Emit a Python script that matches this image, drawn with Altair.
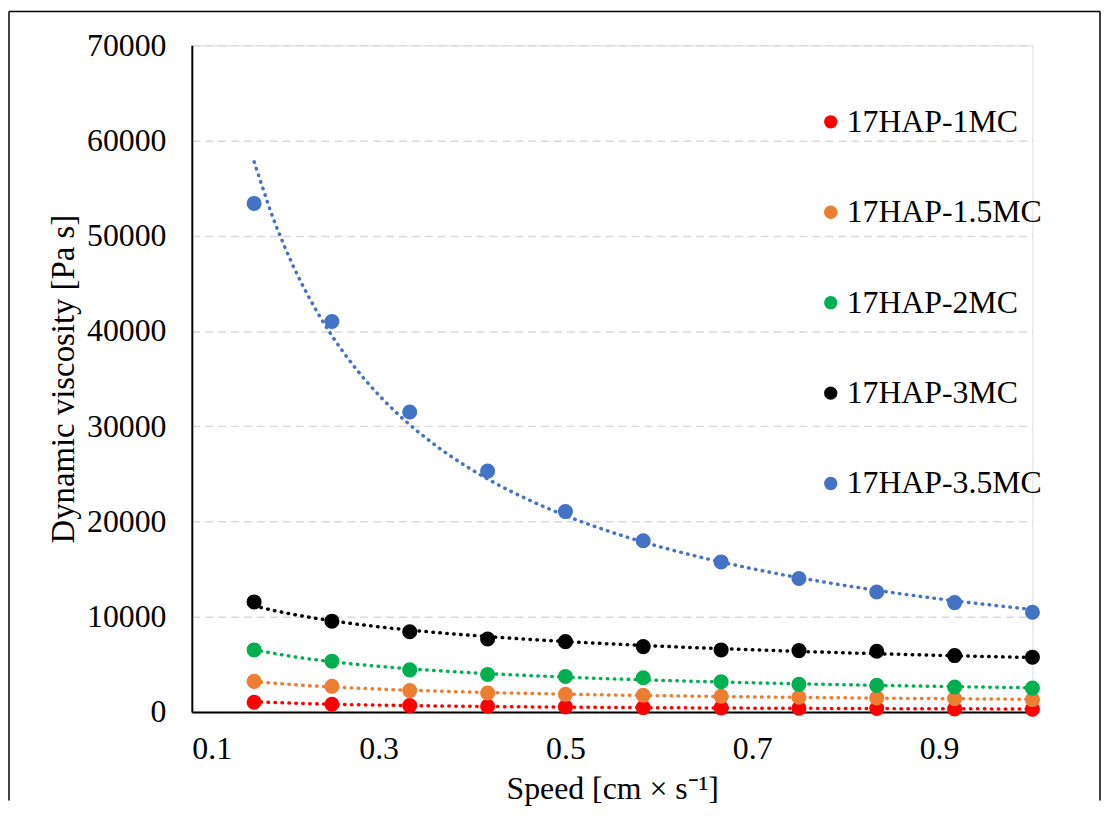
import altair as alt
import pandas as pd

speed = [0.1667, 0.25, 0.3333, 0.4167, 0.5, 0.5833, 0.6667, 0.75, 0.8333, 0.9167, 1.0]
series_names = ["17HAP-1MC", "17HAP-1.5MC", "17HAP-2MC", "17HAP-3MC", "17HAP-3.5MC"]
visc_1mc = [1030, 820, 680, 610, 540, 470, 440, 400, 370, 330, 300]
visc_15mc = [3220, 2700, 2250, 2000, 1860, 1760, 1660, 1550, 1480, 1410, 1310]
visc_2mc = [6520, 5340, 4430, 3950, 3740, 3600, 3180, 2910, 2800, 2630, 2520]
visc_3mc = [11560, 9540, 8430, 7670, 7390, 6870, 6520, 6450, 6380, 5930, 5760]
visc_35mc = [53400, 41000, 31500, 25300, 21050, 17980, 15760, 14020, 12600, 11490, 10480]
colors = ["#FF0000", "#ED7D31", "#00B050", "#000000", "#4472C4"]
x_ticks = [0.1, 0.3, 0.5, 0.7, 0.9]
y_ticks = [0, 10000, 20000, 30000, 40000, 50000, 60000, 70000]

rows = []
for name, vals in zip(series_names, [visc_1mc, visc_15mc, visc_2mc, visc_3mc, visc_35mc]):
    for s, v in zip(speed, vals):
        rows.append({"speed": s, "visc": v, "series": name})
df = pd.DataFrame(rows)

FONT = "Liberation Serif"

color_scale = alt.Scale(domain=series_names, range=colors)
x_enc = alt.X(
    "speed:Q",
    scale=alt.Scale(domain=[0.1, 1.0], nice=False, zero=False),
    axis=alt.Axis(
        values=x_ticks, format=".1f", grid=False, ticks=False,
        domainColor="black", domainWidth=2,
        labelFont=FONT, labelFontSize=32, labelColor="black", labelPadding=22,
        title="Speed [cm × s⁻¹]", titleFont=FONT, titleFontSize=32,
        titleFontWeight="normal", titleColor="black", titlePadding=9,
    ),
)
y_enc = alt.Y(
    "visc:Q",
    scale=alt.Scale(domain=[0, 70000], nice=False),
    axis=alt.Axis(
        values=y_ticks, format="d", grid=True, gridDash=[8, 5],
        gridColor="#d9d9d9", gridWidth=1.5, ticks=False,
        domainColor="black", domainWidth=2,
        labelFont=FONT, labelFontSize=32, labelColor="black", labelPadding=26,
        title="Dynamic viscosity [Pa s]", titleFont=FONT, titleFontSize=33,
        titleFontWeight="normal", titleColor="black", titlePadding=6,
    ),
)

base = alt.Chart(df)

trend = base.transform_regression(
    "speed", "visc", method="pow", groupby=["series"]
).mark_line(strokeWidth=3.5, strokeDash=[0.5, 6.5], strokeCap="round").encode(
    x=x_enc, y=y_enc,
    color=alt.Color("series:N", scale=color_scale, legend=None),
)

points = base.mark_circle(size=230, opacity=1).encode(
    x=x_enc, y=y_enc,
    color=alt.Color(
        "series:N", scale=color_scale, sort=series_names,
        legend=alt.Legend(
            title=None, orient="none", legendX=627, legendY=61,
            symbolType="circle", symbolSize=180, symbolStrokeWidth=0,
            labelFont=FONT, labelFontSize=32, labelColor="black",
            labelOffset=0, rowPadding=59, padding=0, labelLimit=400,
        ),
    ),
)

frame_df = pd.DataFrame({"k": [0]})
frame = alt.Chart(frame_df)
left_rule = frame.mark_rule(color="black", strokeWidth=1.5).encode(
    x=alt.value(-184), y=alt.value(-34), y2=alt.value(760))
right_rule = frame.mark_rule(color="black", strokeWidth=1.5).encode(
    x=alt.value(914), y=alt.value(-34), y2=alt.value(760))
top_rule = frame.mark_rule(color="black", strokeWidth=1.5).encode(
    x=alt.value(-184), x2=alt.value(914), y=alt.value(-34))

chart = alt.layer(trend, points, left_rule, right_rule, top_rule).resolve_legend(
    color="independent"
).properties(
    width=846, height=671, padding=0
).configure_view(stroke=None).configure(background="white")

chart.save("out.html", embed_options={"renderer": "svg", "actions": False})
